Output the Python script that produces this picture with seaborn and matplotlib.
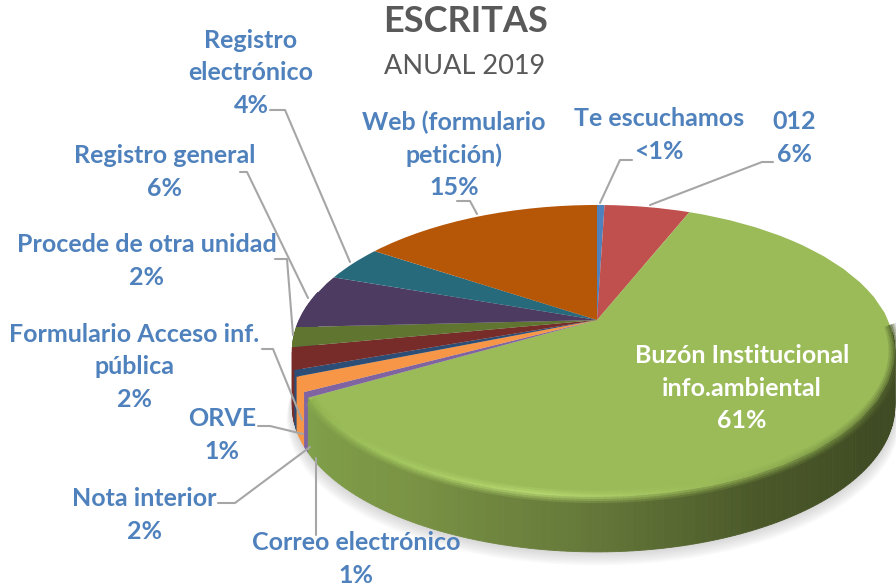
import numpy as np
import matplotlib
matplotlib.use("Agg")
import matplotlib.pyplot as plt
import seaborn as sns
from matplotlib.collections import LineCollection
from matplotlib.path import Path
from matplotlib.transforms import Transform

# datos del grafico
categories = ["Te escuchamos", "012", "Buzón Institucional info.ambiental",
              "Correo electrónico", "Nota interior", "ORVE",
              "Formulario Acceso inf. pública", "Procede de otra unidad",
              "Registro general", "Registro electrónico", "Web (formulario petición)"]
shares = [0.5, 5.7, 60.5, 0.6, 1.6, 0.7, 2.4, 2.2, 6.1, 4.0, 15.7]
colors = ["#4F81BD", "#C0504D", "#9BBB59", "#8064A2", "#F79646", "#2C4D75",
          "#772C2A", "#5F7530", "#4D3B62", "#276A7C", "#B65708"]
label_texts = ["Te escuchamos\n<1%", "012\n6%", "Buzón Institucional\ninfo.ambiental\n61%",
               "Correo electrónico\n1%", "Nota interior\n2%", "ORVE\n1%",
               "Formulario Acceso inf.\npública\n2%", "Procede de otra unidad\n2%",
               "Registro general\n6%", "Registro\nelectrónico\n4%", "Web (formulario\npetición)\n15%"]
label_pos = [(659, 135), (794, 138), (742, 388), (356, 559), (144, 515), (222, 435),
             (134, 367), (147, 261), (165, 172), (251, 73), (454, 155)]
leaders = [[(632, 160), (620, 160), (600, 203)],
           [(773, 162), (762, 162), (650, 205)],
           [(316, 535), (316, 458)],
           [(218, 503), (235, 503), (310, 447)],
           [(258, 426), (270, 426), (303, 434)],
           [(262, 349), (273, 349), (302, 420)],
           [(275, 259), (287, 259), (293, 335)],
           [(240, 172), (247, 172), (308, 298)],
           [(270, 110), (285, 110), (350, 262)],
           [(457, 201), (470, 201), (477, 214)]]

CX, CY = 597, 320
RADIUS, TILT, SQUASH = 294, 0.212, 139.4
DEPTH = 55
BLUE = "#4F81BD"
GREY = "#A6A6A6"


def project(u, v):
    # circulo unidad -> elipse en perspectiva (coordenadas de pixel)
    w = 1 + TILT * v
    side = np.where(np.asarray(u) < 0, 1.013, 0.99)  # el pastel no es simetrico respecto al centro
    return CX + RADIUS * side * u / w, CY - SQUASH * v / w


class PerspectiveTransform(Transform):
    input_dims = 2
    output_dims = 2
    is_separable = False
    has_inverse = False

    def transform_non_affine(self, values):
        x, y = project(values[:, 0], values[:, 1])
        return np.column_stack([x, y])

    def transform_path_non_affine(self, path):
        poly = path.to_polygons(closed_only=True)[0] / 100.0
        return Path(self.transform_non_affine(poly), closed=True)


sns.set_theme(style="white")
plt.rcParams["font.family"] = ["Lato", "DejaVu Sans"]

fig = plt.figure(figsize=(8.96, 5.87), dpi=100)
ax = fig.add_axes([0, 0, 1, 1])

wedges, _ = ax.pie(shares, colors=colors, startangle=90, counterclock=False,
                   radius=100, wedgeprops={"linewidth": 0})
ax.set_aspect("auto")
ax.set_xlim(0, 896)
ax.set_ylim(587, 0)
ax.axis("off")

persp = PerspectiveTransform()
for wedge in wedges:
    wedge.set_transform(persp + ax.transData)
    wedge.set_zorder(5)

# sombra
angles = np.radians(np.linspace(0, 360, 240))
sx, sy = project(np.cos(angles), np.sin(angles))
for i in range(10):
    ax.fill(sx + (sx - 597) * 0.002 * i, sy + DEPTH + 1.5 * i, color="#808080",
            alpha=0.035, lw=0, zorder=1)

# pared lateral: tiras de atras hacia delante
wall_ramp = sns.blend_palette(["#3E4A22", "#3F4B23", "#4A5829", "#66793A", "#7A9445", "#80A049"], 200)
strips = []
for wedge, color in zip(wedges, colors):
    start, end = max(wedge.theta1, -192), min(wedge.theta2, -5)
    if end <= start:
        continue
    steps = np.linspace(start, end, max(2, int(end - start) + 2))
    for a, b in zip(steps[:-1], steps[1:]):
        strips.append((a, b, color))
strips.sort(key=lambda s: -np.sin(np.radians((s[0] + s[1]) / 2)))

for a, b, color in strips:
    t = np.radians([a, b])
    x, y = project(np.cos(t), np.sin(t))
    if color == colors[2]:
        pos = (-(a + b) / 2 - 5) / 145
        shade = wall_ramp[int(np.clip(pos, 0, 1) * 199)]
    else:
        shade = color
    ax.fill([x[0], x[1], x[1], x[0]], [y[0], y[1], y[1] + DEPTH, y[0] + DEPTH],
            color=shade, lw=0.6, zorder=2)

# bisel difuso del borde frontal
rim = np.radians(np.linspace(-149, -2, 150))
rx, ry = project(np.cos(rim), np.sin(rim))
segs = np.stack([np.column_stack([rx[:-1], ry[:-1]]), np.column_stack([rx[1:], ry[1:]])], axis=1)
rim_ramp = sns.blend_palette(["#4A5829", "#55652F", "#7E9A47", "#A0C05C", "#C0E278", "#A8CC62", "#8FB04F"], 149)[::-1]
for width, alpha in [(9, 0.2), (6, 0.3), (3, 0.45)]:
    ax.add_collection(LineCollection(segs, colors=rim_ramp, linewidths=width, alpha=alpha,
                                     capstyle="butt", zorder=6))

for line in leaders:
    xs, ys = zip(*line)
    ax.plot(xs, ys, color=GREY, lw=1.5, zorder=4)

for name, text, (x, y) in zip(categories, label_texts, label_pos):
    ax.text(x, y, text, color="white" if name.startswith("Buzón") else BLUE, fontsize=18,
            fontweight="bold", ha="center", va="center", linespacing=1.48, zorder=8)

ax.text(466, 21, "ESCRITAS", color="#595959", fontsize=26, fontweight="bold",
        ha="center", va="center")
ax.text(465, 66, "ANUAL 2019", color="#595959", fontsize=19.5, ha="center", va="center")

fig.savefig("out.png", dpi=100)
